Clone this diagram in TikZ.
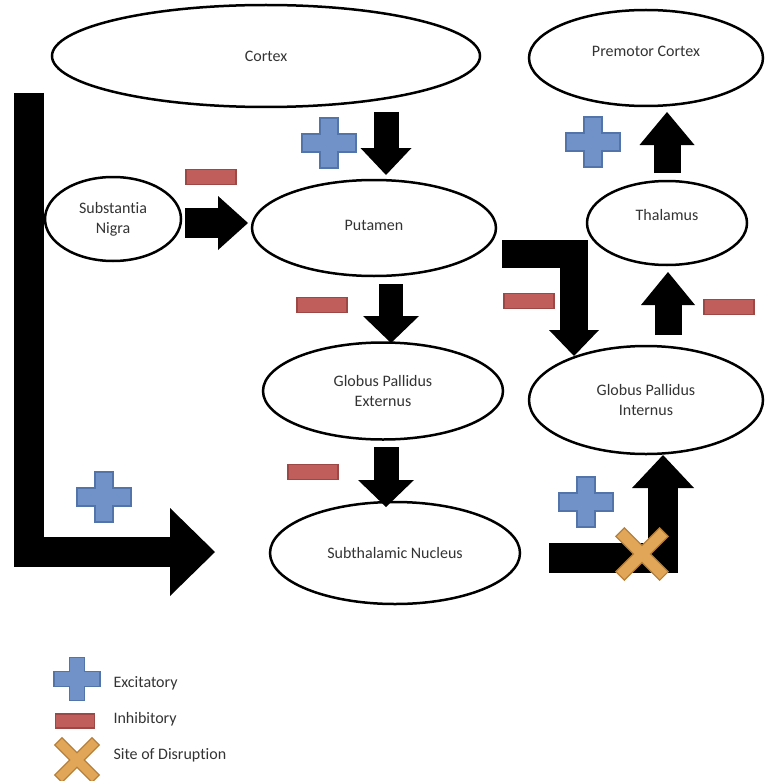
\documentclass[tikz,border=0pt]{standalone}
\usepackage{fontspec}
\setmainfont[Ligatures=NoCommon]{Carlito}
\usetikzlibrary{shapes.geometric,arrows.meta}

\definecolor{plusfill}{RGB}{112,146,200}
\definecolor{plusline}{RGB}{82,116,170}
\definecolor{minusfill}{RGB}{192,94,92}
\definecolor{minusline}{RGB}{158,72,70}
\definecolor{crossfill}{RGB}{226,166,88}
\definecolor{crossline}{RGB}{182,128,58}

\tikzset{
  area/.style={draw=black, line width=2.5pt, ellipse, inner sep=0pt, align=center,
    text=black!80, font=\fontsize{16}{20}\selectfont},
  legendtext/.style={anchor=west, text=black!80, font=\fontsize{16}{20}\selectfont},
  blockarrow/.style n args={3}{draw=black, line width=#1, line join=miter,
    -{Triangle[width=#2, length=#3, line width=0pt]}},
  minus/.style={rectangle, fill=minusfill, draw=minusline, line width=1.2pt,
    minimum width=50pt, minimum height=15pt, inner sep=0pt},
  pluspic/.pic={
    \filldraw[fill=plusfill, draw=plusline, line width=1.2pt]
      (-9,-25) -- (9,-25) -- (9,-9) -- (27,-9) -- (27,9) -- (9,9) -- (9,25)
      -- (-9,25) -- (-9,9) -- (-27,9) -- (-27,-9) -- (-9,-9) -- cycle;
  },
  crosspic/.pic={
    \filldraw[fill=crossfill, draw=crossline, line width=1.2pt, rotate=45]
      (-6,-31) -- (6,-31) -- (6,-6) -- (31,-6) -- (31,6) -- (6,6) -- (6,31)
      -- (-6,31) -- (-6,6) -- (-31,6) -- (-31,-6) -- (-6,-6) -- cycle;
  }
}

\begin{document}
\begin{tikzpicture}[x=1pt, y=-1pt]
  \useasboundingbox (0,0) rectangle (769,781);

  % areas
  \node[area, minimum width=428pt, minimum height=102pt] (cortex) at (266,56) {Cortex};
  \node[area, minimum width=234pt, minimum height=96pt, text depth=13pt] (premotor) at (646,58) {Premotor Cortex};
  \node[area, minimum width=136pt, minimum height=84pt] (nigra) at (113,219) {Substantia\\Nigra};
  \node[area, minimum width=244pt, minimum height=96pt, text depth=5pt] (putamen) at (374,228) {Putamen};
  \node[area, minimum width=160pt, minimum height=84pt, text depth=17pt] (thalamus) at (667,223) {Thalamus};
  \node[area, minimum width=240pt, minimum height=97pt] (gpe) at (383,391) {Globus Pallidus\\Externus};
  \node[area, minimum width=234pt, minimum height=108pt] (gpi) at (646,400) {Globus Pallidus\\Internus};
  \node[area, minimum width=250pt, minimum height=102pt] (stn) at (395,553) {Subthalamic Nucleus};

  % arrow ends
  \coordinate (c1) at (386,112);  \coordinate (p1) at (386,175);
  \coordinate (n1) at (185,223);  \coordinate (p2) at (248,223);
  \coordinate (p3) at (391,284);  \coordinate (e1) at (391,343);
  \coordinate (e2) at (386,447);  \coordinate (s1) at (386,507);
  \coordinate (l1) at (29,93);    \coordinate (s2) at (215,552);
  \coordinate (p4) at (502,254);  \coordinate (i1) at (574,356);
  \coordinate (i2) at (668,335);  \coordinate (t1) at (668,272);
  \coordinate (t2) at (667,173);  \coordinate (m1) at (667,112);
  \coordinate (s3) at (549,558);  \coordinate (i3) at (663,455);

  % arrows
  \draw[blockarrow={25pt}{51pt}{27pt}] (c1) -- (p1);
  \draw[blockarrow={30pt}{54pt}{30pt}] (n1) -- (p2);
  \draw[blockarrow={24pt}{56pt}{27pt}] (p3) -- (e1);
  \draw[blockarrow={25pt}{56pt}{27pt}] (e2) -- (s1);
  \draw[blockarrow={30pt}{88pt}{45pt}] (l1) |- (s2);
  \draw[blockarrow={28pt}{50pt}{26pt}] (p4) -| (i1);
  \draw[blockarrow={27pt}{54pt}{33pt}] (i2) -- (t1);
  \draw[blockarrow={27pt}{55pt}{33pt}] (t2) -- (m1);
  \draw[blockarrow={30pt}{62pt}{33pt}] (s3) -| (i3);

  % signs
  \pic at (329,143) {pluspic};
  \pic at (593,142) {pluspic};
  \pic at (104,497) {pluspic};
  \pic at (586,502) {pluspic};
  \node[minus] (mn1) at (211,177) {};
  \node[minus] (mn2) at (322,305) {};
  \node[minus] (mn3) at (529,301) {};
  \node[minus] (mn4) at (729,307) {};
  \node[minus] (mn5) at (313,472) {};
  \pic at (642,554) {crosspic};

  % legend
  \pic[scale=0.85] at (77,679) {pluspic};
  \node[minus, minimum width=39pt, minimum height=14pt] (mn6) at (75,721) {};
  \pic[scale=0.85] at (77,760) {crosspic};
  \node[legendtext] (exc) at (110,683) {Excitatory};
  \node[legendtext] (inh) at (110,719) {Inhibitory};
  \node[legendtext] (dis) at (110,755) {Site of Disruption};
\end{tikzpicture}
\end{document}
